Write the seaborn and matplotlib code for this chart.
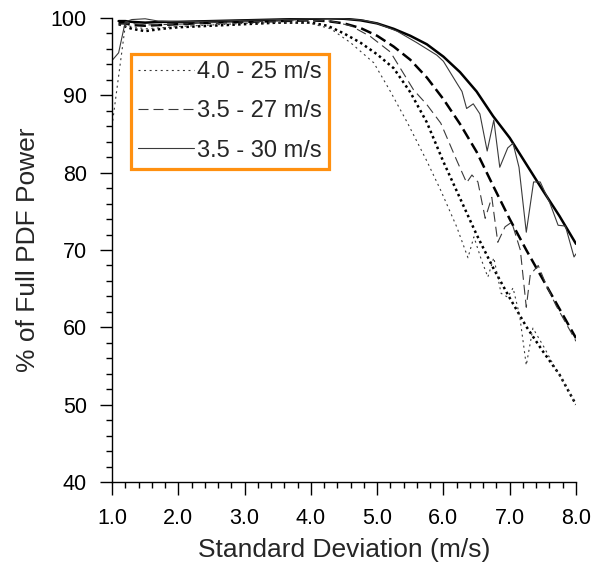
import numpy as np
import pandas as pd
import matplotlib
matplotlib.use("Agg")
import matplotlib.pyplot as plt
import seaborn as sns

# ---------------- data ----------------
labels = ["4.0 - 25 m/s", "3.5 - 27 m/s", "3.5 - 30 m/s"]

# thick smooth curves
thick_x = [1.1, 1.2, 1.3, 1.5, 1.75, 2.0, 2.5, 3.0, 3.5, 4.0, 4.25, 4.5, 4.75,
           5.0, 5.25, 5.5, 5.75, 6.0, 6.25, 6.5, 6.75, 7.0, 7.25, 7.5, 7.75, 8.0]
thick_25 = [99.2, 98.9, 98.6, 98.3, 98.6, 98.8, 99.0, 99.2, 99.4, 99.4, 99.0, 98.0, 96.8,
            95.3, 93.5, 90.4, 86.5, 81.4, 76.7, 72.0, 67.7, 63.8, 60.1, 56.9, 53.9, 50.0]
thick_27 = [99.4, 99.3, 99.1, 99.0, 99.1, 99.2, 99.4, 99.5, 99.6, 99.7, 99.6, 99.3, 98.7,
            97.7, 96.3, 94.6, 92.3, 89.5, 86.3, 82.7, 78.3, 74.0, 70.0, 66.2, 62.4, 58.6]
thick_30 = [99.6, 99.6, 99.5, 99.4, 99.5, 99.5, 99.6, 99.7, 99.8, 99.9, 99.95, 99.9, 99.7,
            99.3, 98.6, 97.7, 96.6, 95.0, 93.0, 90.5, 87.3, 84.5, 81.1, 77.7, 74.4, 70.8]

# thin raw curves
thin25_x = [1.0, 1.1, 1.2, 1.3, 1.5, 2.0, 2.5, 3.0, 3.5, 4.0, 4.3, 4.6, 4.95, 5.2,
            5.46, 5.75, 5.96, 6.2, 6.37, 6.46, 6.57, 6.67, 6.76, 6.87, 6.97, 7.05,
            7.15, 7.25, 7.35, 7.52, 7.7, 7.85, 8.0]
thin25_y = [86.0, 92.5, 99.0, 98.9, 98.6, 98.9, 99.1, 99.3, 99.4, 99.3, 98.6, 96.8, 94.2, 90.5,
            86.4, 81.5, 77.7, 73.0, 69.0, 71.7, 68.8, 66.5, 69.0, 64.4, 63.9, 65.1,
            61.5, 55.1, 59.9, 57.4, 54.5, 52.5, 50.0]

thin27_x = [1.1, 1.3, 1.5, 2.0, 2.5, 3.0, 3.5, 4.0, 4.3, 4.6, 4.9, 5.2, 5.55, 5.75,
            5.96, 6.2, 6.35, 6.43, 6.52, 6.63, 6.73, 6.82, 6.93, 7.03, 7.16, 7.25,
            7.31, 7.43, 7.55, 7.7, 7.85, 8.0]
thin27_y = [99.2, 99.3, 99.1, 99.2, 99.4, 99.5, 99.6, 99.7, 99.6, 99.0, 97.6, 95.6, 90.7, 88.8,
            86.4, 81.6, 78.7, 79.7, 78.8, 74.1, 76.8, 71.0, 73.0, 73.6, 70.0, 62.6,
            66.8, 68.0, 65.5, 62.8, 60.5, 58.2]

thin30_x = [1.0, 1.1, 1.2, 1.3, 1.5, 1.7, 2.0, 2.5, 3.0, 3.5, 4.0, 4.5, 4.8, 5.0, 5.3,
            5.6, 5.9, 6.0, 6.1, 6.2, 6.28, 6.35, 6.45, 6.55, 6.66, 6.76, 6.85, 6.97,
            7.05, 7.14, 7.25, 7.36, 7.46, 7.6, 7.73, 7.84, 7.97, 8.0]
thin30_y = [94.5, 95.5, 99.5, 99.8, 99.9, 99.6, 99.5, 99.6, 99.7, 99.8, 99.9, 99.9, 99.7, 99.3, 98.3,
            96.8, 95.2, 94.4, 93.0, 91.6, 90.5, 88.3, 88.9, 87.6, 82.8, 86.8, 80.7, 83.2,
            83.8, 80.7, 72.3, 78.8, 78.8, 76.2, 73.2, 73.1, 69.1, 69.5]

x_ticks = [1.0, 2.0, 3.0, 4.0, 5.0, 6.0, 7.0, 8.0]
x_ticklabels = ["1.0", "2.0", "3.0", "4.0", "5.0", "6.0", "7.0", "8.0"]
y_ticks = [40, 50, 60, 70, 80, 90, 100]

# ---------------- plotting ----------------
sns.set_style("ticks")
plt.rcParams["font.family"] = ["Liberation Sans", "DejaVu Sans"]

fig = plt.figure(figsize=(5.92, 5.68), dpi=100)
ax = fig.add_axes([112 / 592, 1 - 482 / 568, 464 / 592, 464 / 568])

thin_col = "#3a3a3a"
thick_col = "black"

# thick curves
sns.lineplot(x=thick_x, y=thick_25, ax=ax, color=thick_col, lw=1.8,
             linestyle=(0, (1.0, 1.3)), estimator=None, sort=False)
sns.lineplot(x=thick_x, y=thick_27, ax=ax, color=thick_col, lw=1.8,
             linestyle=(0, (4.5, 2.0)), estimator=None, sort=False)
sns.lineplot(x=thick_x, y=thick_30, ax=ax, color=thick_col, lw=1.8,
             linestyle="-", estimator=None, sort=False)

# thin curves
sns.lineplot(x=thin25_x, y=thin25_y, ax=ax, color=thin_col, lw=0.8,
             linestyle=(0, (1.8, 3.2)), estimator=None, sort=False, label=labels[0])
sns.lineplot(x=thin27_x, y=thin27_y, ax=ax, color=thin_col, lw=0.8,
             linestyle=(0, (9.0, 4.5)), estimator=None, sort=False, label=labels[1])
sns.lineplot(x=thin30_x, y=thin30_y, ax=ax, color=thin_col, lw=0.8,
             linestyle="-", estimator=None, sort=False, label=labels[2])

ax.set_xlim(1.0, 8.0)
ax.set_ylim(40, 100)
ax.set_xticks(x_ticks)
ax.set_xticklabels(x_ticklabels)
ax.set_yticks(y_ticks)
ax.set_xticks(np.arange(1.0, 8.0001, 0.2), minor=True)
ax.set_yticks(np.arange(40, 100.001, 2), minor=True)

for side in ["top", "right"]:
    ax.spines[side].set_visible(False)
for side in ["left", "bottom"]:
    ax.spines[side].set_linewidth(1.0)
    ax.spines[side].set_color("black")

ax.tick_params(axis="both", which="major", direction="out", length=9, width=1.0,
               labelsize=15.5, colors="black")
ax.tick_params(axis="x", which="major", pad=10)
ax.tick_params(axis="y", which="major", pad=9)
ax.tick_params(axis="both", which="minor", direction="out", length=4.5, width=1.0,
               colors="black")

ax.set_xlabel("Standard Deviation (m/s)", fontsize=19, labelpad=6)
ax.set_ylabel("% of Full PDF Power", fontsize=19, labelpad=8)

leg = ax.legend(loc="upper left", bbox_to_anchor=(0.040, 0.923), borderaxespad=0,
                fontsize=17, frameon=True, fancybox=False, handlelength=2.4,
                handletextpad=0.1, labelspacing=0.74, borderpad=0.3)
frame = leg.get_frame()
frame.set_edgecolor("#FF9010")
frame.set_linewidth(2.3)
frame.set_facecolor("white")
frame.set_alpha(1.0)

fig.savefig("out.png", dpi=100)
